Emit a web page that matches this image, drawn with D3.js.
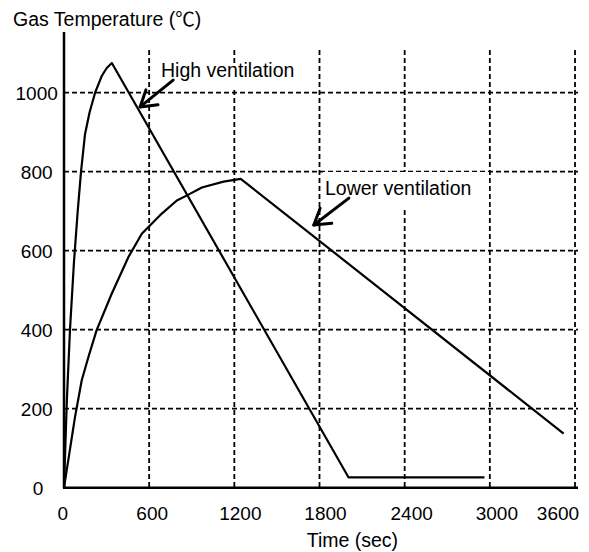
<!DOCTYPE html>
<html>
<head>
<meta charset="utf-8">
<script src="https://cdn.jsdelivr.net/npm/d3@7"></script>
<style>
  body { margin: 0; background: #fff; }
  svg { display: block; }
</style>
</head>
<body>
<svg width="589" height="552"></svg>
<script>
// data: [time (sec), gas temperature (C)]
var highVent = [
    [0,0],[20,220],[42,399],[70,570],[97,702],[120,800],[148,895],[180,950],
    [219,1000],[267,1043],[300,1062],[337,1075],[2005,26],[2962,26],
];
var lowVent = [
    [0,0],[78,180],[125,272],[172,331],[230,399],[336,491],[454,584],[548,643],
    [677,690],[795,727],[877,742],[971,760],[1124,775],[1245,782],[3520,137],
];
var xTicks = [0, 600, 1200, 1800, 2400, 3000, 3600];
var yTicks = [0, 200, 400, 600, 800, 1000];
var titleY = "Gas Temperature (";
var titleYUnit = "\u2103";
var titleX = "Time (sec)";
var labelHigh = "High ventilation";
var labelLow = "Lower ventilation";

var FONT = "'Liberation Sans', Arial, 'DejaVu Sans', sans-serif";
var svg = d3.select("svg").style("font-family", FONT);

// scales
var x = d3.scaleLinear().domain([0, 3600]).range([64, 575]);
var y = d3.scaleLinear().domain([0, 1000]).range([487.7, 92.7]);

// grid
var g_grid = svg.append("g")
    .attr("stroke", "#000")
    .attr("stroke-width", 1.8)
    .attr("stroke-dasharray", "5,3");
g_grid.selectAll(".vg")
    .data(xTicks.slice(1))
    .enter()
    .append("line")
    .attr("x1", function(d){ return x(d); })
    .attr("x2", function(d){ return x(d); })
    .attr("y1", 50)
    .attr("y2", y(0));
g_grid.selectAll(".hg")
    .data(yTicks.slice(1))
    .enter()
    .append("line")
    .attr("x1", x(0))
    .attr("x2", 578)
    .attr("y1", function(d){ return y(d); })
    .attr("y2", function(d){ return y(d); });

// label boxes cover the grid
svg.append("rect").attr("x", 158).attr("y", 67).attr("width", 140).attr("height", 21).attr("fill", "#fff");
svg.append("rect").attr("x", 323).attr("y", 172).attr("width", 166).attr("height", 35).attr("fill", "#fff");

// axes (no ticks)
svg.append("line")
    .attr("x1", x(0)).attr("x2", x(0))
    .attr("y1", 32).attr("y2", y(0))
    .attr("stroke", "#000").attr("stroke-width", 2.5);
svg.append("line")
    .attr("x1", x(0) - 1).attr("x2", 578)
    .attr("y1", y(0)).attr("y2", y(0))
    .attr("stroke", "#000").attr("stroke-width", 2.5);

// curves
var line = d3.line()
    .x(function(d){ return x(d[0]); })
    .y(function(d){ return y(d[1]); });
svg.selectAll(".curve")
    .data([highVent, lowVent])
    .enter()
    .append("path")
    .attr("class", "curve")
    .attr("d", line)
    .attr("fill", "none")
    .attr("stroke", "#000")
    .attr("stroke-width", 2.2)
    .attr("stroke-linejoin", "round");

// tick labels
var xShift = [-1.3, 3, 6, 6, 7, 7, -17];
svg.selectAll(".xl")
    .data(xTicks)
    .enter()
    .append("text")
    .attr("x", function(d, i){ return x(d) + xShift[i]; })
    .attr("y", 519.5)
    .attr("text-anchor", "middle")
    .attr("font-size", "19px")
    .text(function(d){ return d; });
svg.selectAll(".yl")
    .data(yTicks)
    .enter()
    .append("text")
    .attr("x", function(d){ return d === 0 ? 38 : 36.7; })
    .attr("y", function(d){ return y(d) + 6.8; })
    .attr("text-anchor", "middle")
    .attr("font-size", "19px")
    .text(function(d){ return d; });

// titles
var ty = svg.append("text").attr("x", 13).attr("y", 26).attr("font-size", "19.5px");
ty.append("tspan").text(titleY);
ty.append("tspan").style("font-family", "'Noto Sans CJK JP', 'DejaVu Sans', sans-serif").text(titleYUnit);
ty.append("tspan").text(")");
svg.append("text").attr("x", 306.7).attr("y", 547).attr("font-size", "19.5px").text(titleX);

// annotations
svg.append("text").attr("x", 161).attr("y", 77).attr("font-size", "19.5px").text(labelHigh);
svg.append("text").attr("x", 325).attr("y", 195).attr("font-size", "19.5px").text(labelLow);

// arrows (data space)
function arrow(t0, v0, t1, v1){
    var x0 = x(t0), y0 = y(v0), x1 = x(t1), y1 = y(v1);
    var ang = Math.atan2(y0 - y1, x0 - x1);
    var len = 18, spread = 32 * Math.PI / 180;
    var pts = [
        [x1 + len*Math.cos(ang - spread), y1 + len*Math.sin(ang - spread)],
        [x1, y1],
        [x1 + len*Math.cos(ang + spread), y1 + len*Math.sin(ang + spread)],
    ];
    var g = svg.append("g")
        .attr("stroke", "#000")
        .attr("stroke-width", 3)
        .attr("fill", "none")
        .attr("stroke-linecap", "round")
        .attr("stroke-linejoin", "round");
    g.append("line").attr("x1", x0).attr("y1", y0).attr("x2", x1).attr("y2", y1);
    g.append("polyline").attr("points", pts.map(function(p){ return p.join(","); }).join(" "));
}
arrow(769, 1032, 536, 964);
arrow(2007, 733, 1760, 665);
</script>
</body>
</html>
